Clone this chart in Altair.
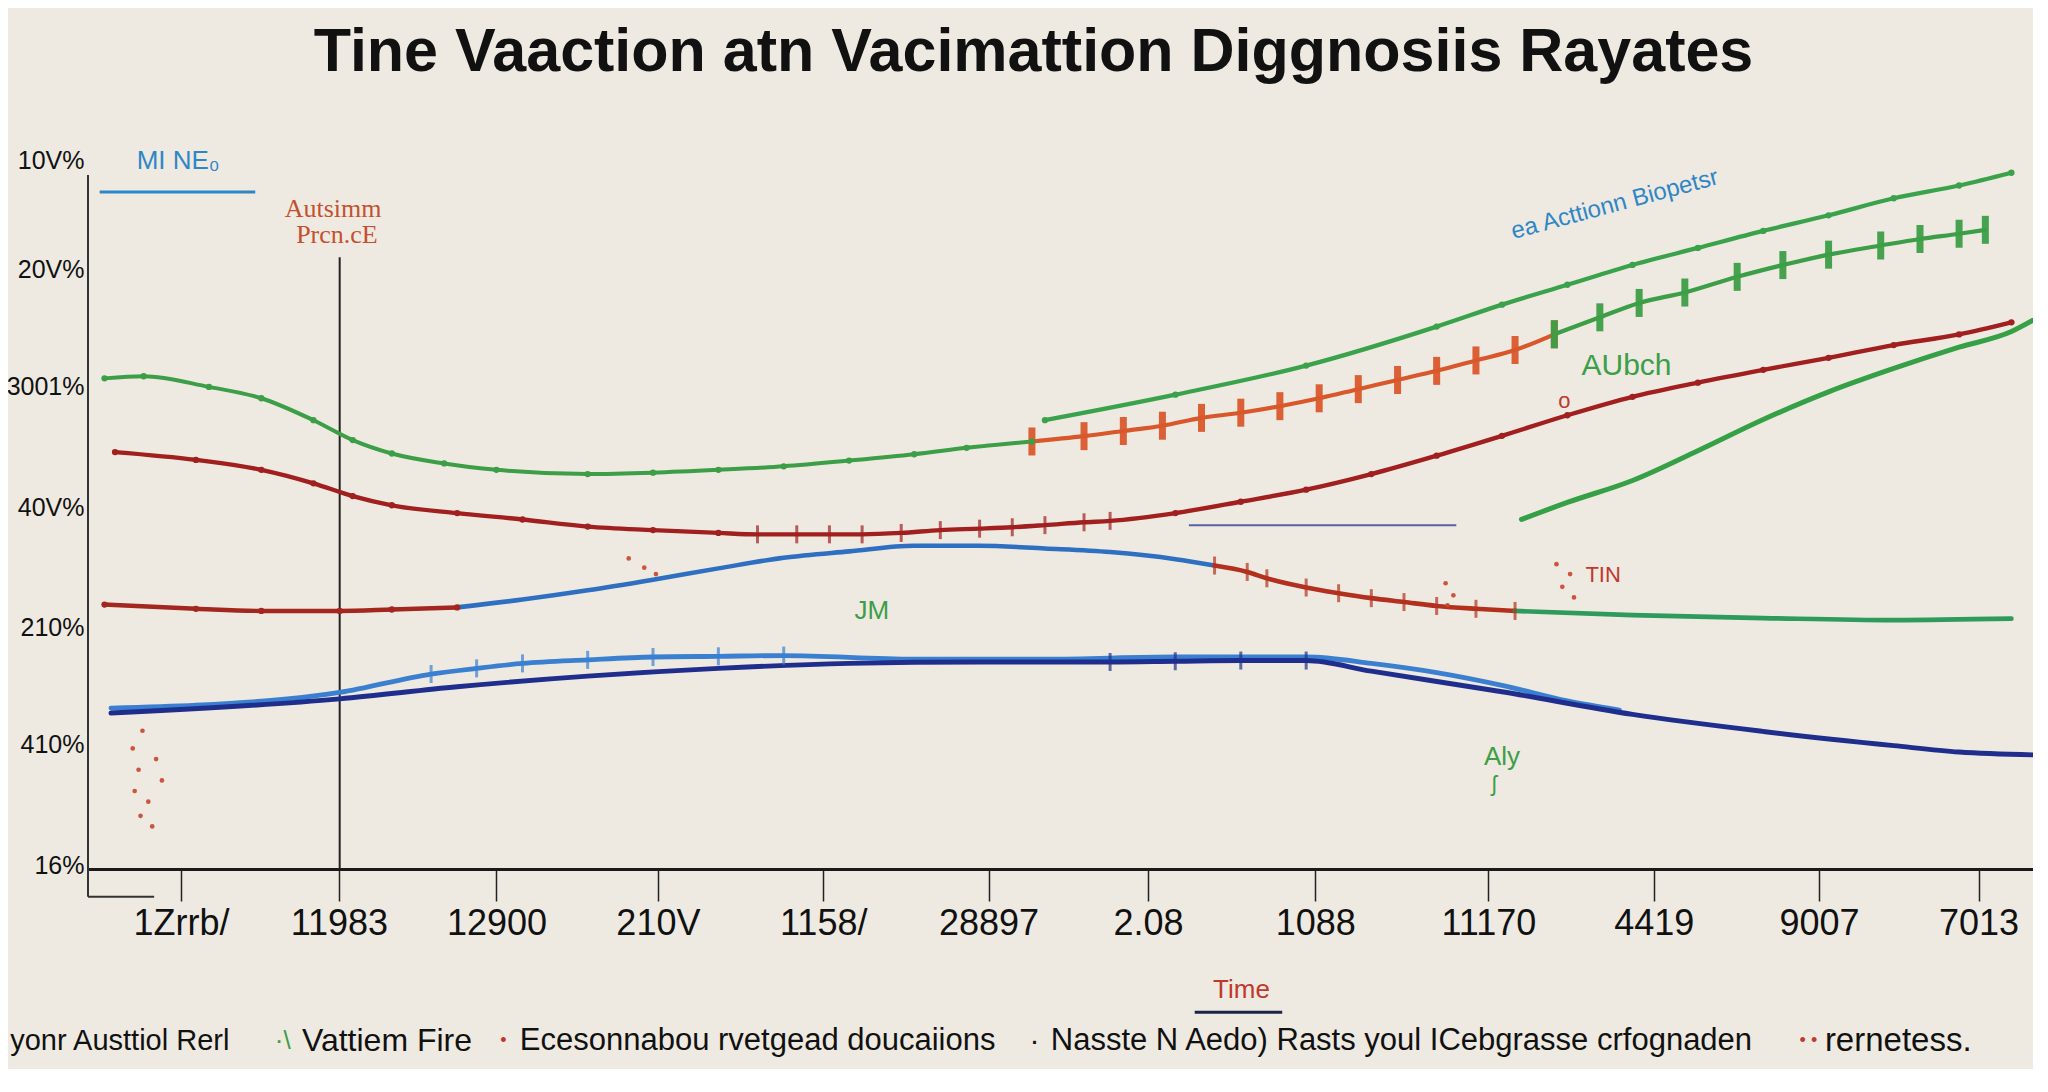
import json
import altair as alt
import pandas as pd

TITLE = "Tine Vaaction atn Vacimattion Diggnosiis Rayates"
SANS = "Liberation Sans"

x_tick_values = [4.78, 12.9, 21.0, 29.3, 37.8, 46.3, 54.5, 63.1, 72.0, 80.5, 89.0, 97.2]
x_tick_labels = ["1Zrrb/", "11983", "12900", "210V", "1158/", "28897", "2.08", "1088", "11170", "4419", "9007", "7013"]
y_tick_values = [0.5, 17.5, 34, 51, 68, 84.5, 100]
y_tick_labels = ["16%", "410%", "210%", "40V%", "3001%", "20V%", "10V%"]

green_a_x = [0.85, 2.86, 6.22, 8.91, 11.59, 13.61, 15.62, 18.31, 21.0, 25.69, 29.05, 32.41, 35.77, 39.13, 42.48, 45.17, 48.53]
green_a_y = [69.2, 69.5, 68.0, 66.4, 63.3, 60.5, 58.6, 57.2, 56.3, 55.7, 55.9, 56.3, 56.8, 57.6, 58.5, 59.4, 60.3]

orange_b_x = [48.53, 51.21, 53.23, 55.24, 57.25, 59.27, 61.28, 63.30, 65.31, 67.33, 69.34, 71.36, 73.37, 75.39]
orange_b_y = [60.3, 61.05, 61.78, 62.52, 63.63, 64.36, 65.28, 66.39, 67.68, 68.97, 70.26, 71.73, 73.20, 75.42]

green_b_x = [75.39, 77.73, 79.75, 82.10, 84.79, 87.14, 89.49, 92.17, 94.19, 96.20, 97.55]
green_b_y = [75.42, 77.81, 79.84, 81.31, 83.52, 85.18, 86.65, 87.94, 88.86, 89.60, 90.15]

green_c_x = [49.2, 55.91, 62.63, 69.34, 72.70, 76.06, 79.41, 82.77, 86.13, 89.49, 92.84, 96.2, 98.89]
green_c_y = [63.3, 66.9, 71.0, 76.5, 79.6, 82.4, 85.2, 87.6, 90.0, 92.2, 94.6, 96.4, 98.2]

red_d_x = [1.39, 5.55, 8.91, 11.59, 13.61, 15.62, 18.98, 22.34, 25.69, 29.05,
           32.41, 34.42, 36.44, 38.12, 39.80, 41.81, 43.82, 45.84, 47.52, 49.2,
           51.21, 52.55, 55.91, 59.27, 62.63, 65.98, 69.34, 72.70, 76.06, 79.41,
           82.77, 86.13, 89.49, 92.84, 96.2, 98.89]
red_d_y = [58.8, 57.7, 56.3, 54.4, 52.6, 51.3, 50.2, 49.3, 48.3, 47.8,
           47.4, 47.2, 47.2, 47.2, 47.2, 47.4, 47.8, 48.0, 48.2, 48.5,
           48.9, 49.1, 50.2, 51.8, 53.5, 55.7, 58.3, 61.1, 64.0, 66.6,
           68.6, 70.4, 72.1, 73.9, 75.4, 77.1]

red_e_x = [0.85, 5.55, 8.91, 12.94, 15.62, 18.98]
red_e_y = [37.3, 36.7, 36.4, 36.4, 36.6, 36.9]

blue_f_x = [18.98, 22.34, 25.69, 29.05, 32.41, 35.77, 39.13, 42.48, 45.84, 49.2, 52.55, 55.91, 57.92]
blue_f_y = [36.9, 38.0, 39.3, 40.8, 42.4, 43.9, 44.8, 45.6, 45.6, 45.2, 44.7, 43.7, 42.8]

red_g_x = [57.92, 59.6, 60.61, 62.63, 64.3, 65.98, 67.66, 69.34, 71.36, 73.37]
red_g_y = [42.8, 41.9, 41.0, 39.7, 38.9, 38.2, 37.65, 37.1, 36.7, 36.4]

green_h_x = [73.37, 79.41, 86.13, 92.84, 98.89]
green_h_y = [36.4, 35.8, 35.4, 35.1, 35.3]

blue_i_x = [1.18, 5.55, 12.94, 17.64, 19.98, 22.34, 25.69, 29.05, 32.41, 35.77,
            42.48, 49.2, 55.91, 62.63, 65.98, 69.34, 72.70, 76.06, 78.74]
blue_i_y = [22.7, 23.1, 24.9, 27.5, 28.3, 29.0, 29.5, 29.9, 30.0, 30.1,
            29.6, 29.6, 29.9, 29.9, 29.0, 27.7, 25.9, 23.7, 22.4]

navy_j_x = [1.18, 12.94, 18.98, 25.69, 32.41, 39.13, 45.84, 52.55, 55.9, 59.27, 62.63, 65.98, 72.70, 79.41, 86.13, 92.84, 96.2, 100.0]
navy_j_y = [22.0, 24.0, 25.7, 27.2, 28.3, 29.0, 29.2, 29.2, 29.3, 29.4, 29.4, 27.9, 25.0, 21.8, 19.4, 17.4, 16.5, 16.1]

green_k_x = [73.7, 76.06, 79.41, 82.77, 86.13, 89.49, 92.84, 96.2, 98.89, 100.0]
green_k_y = [49.3, 51.7, 54.8, 59.0, 63.4, 67.3, 70.6, 73.6, 75.8, 77.4]

scatter_x = [2.8, 2.3, 3.5, 2.6, 3.8, 2.4, 3.1, 2.7, 3.3, 27.8, 28.6, 29.2, 69.8, 70.2, 69.9, 75.5, 76.2, 75.8, 76.4]
scatter_y = [19.5, 17.0, 15.5, 14.0, 12.5, 11.0, 9.5, 7.5, 6.0, 43.8, 42.5, 41.6, 40.3, 38.6, 37.2, 43.0, 41.6, 39.8, 38.3]

series_names = ["A", "B1", "B2", "C", "D", "E", "F", "G", "H", "I", "J", "K"]
series_colors = ["#3c9e46", "#d9582b", "#3c9e46", "#3aa24a", "#a11f1f", "#a3261f",
                 "#2e6fc2", "#b3301e", "#2e9a5c", "#3b80d0", "#1f2e8c", "#35a046"]
series_widths = [4, 5, 5, 3.5, 3.5, 3.5, 3.5, 3.5, 4, 3, 5.5, 4]

# annotations (center aligned, sans)
ann_text = ["ea Acttionn Biopetsr", "AUbch", "JM", "Aly", "ʃ", "TIN", "o"]
ann_x = [78.5, 79.1, 40.3, 72.7, 72.3, 77.9, 75.9]
ann_y = [93.7, 70.9, 36.4, 15.8, 12.0, 41.5, 66.0]
ann_color = ["#2f86c6", "#3c9e46", "#3c9e46", "#3c9e46", "#3c9e46", "#c0392b", "#c0392b"]
ann_size = [24, 30, 26, 26, 22, 22, 22]
ann_angle = [345, 0, 0, 0, 0, 0, 0]

serif_text = ["Autsimm", "Prcn.cE"]
serif_x = [12.6, 12.8]
serif_y = [93.1, 89.4]

# left aligned texts (legend row and top-left label)
leg_text = ["MI NE₀", "yonr Austtiol Rerl", "·\\", "Vattiem Fire", "•",
            "Ecesonnabou rvetgead doucaiions", "·",
            "Nasste N Aedo) Rasts youl ICebgrasse crfognaden", "• •", "rernetess."]
leg_x = [2.5, -4.0, 9.6, 11.0, 21.2, 22.2, 48.4, 49.5, 88.0, 89.3]
leg_y = [99.9, -24.3, -24.3, -24.3, -24.3, -24.3, -24.3, -24.3, -24.3, -24.3]
leg_color = ["#2f86c6", "#111111", "#3c9e46", "#111111", "#c0392b", "#111111",
             "#111111", "#111111", "#c0392b", "#111111"]
leg_size = [26, 29, 26, 32, 18, 31, 30, 31, 18, 33]

# rules: x, x2, y, y2, color, width
rule_x = [12.94, 0.0, 0.0, 0.6, 56.6, 56.9]
rule_x2 = [12.94, 0.0, 3.4, 8.6, 70.35, 61.4]
rule_y = [0.0, -3.9, -3.9, 95.5, 48.5, -20.2]
rule_y2 = [86.3, 97.9, -3.9, 95.5, 48.5, -20.2]
rule_color = ["#222222", "#333333", "#333333", "#2f86c6", "#5b5fa8", "#1c2448"]
rule_width = [2, 2, 2, 3, 2, 3]

# ---------- build tables ----------
all_series = {
    "A": (green_a_x, green_a_y), "B1": (orange_b_x, orange_b_y), "B2": (green_b_x, green_b_y),
    "C": (green_c_x, green_c_y), "D": (red_d_x, red_d_y), "E": (red_e_x, red_e_y),
    "F": (blue_f_x, blue_f_y), "G": (red_g_x, red_g_y), "H": (green_h_x, green_h_y),
    "I": (blue_i_x, blue_i_y), "J": (navy_j_x, navy_j_y), "K": (green_k_x, green_k_y),
}
rows = []
for name, (xs_, ys_) in all_series.items():
    for i, (xv, yv) in enumerate(zip(xs_, ys_)):
        rows.append({"series": name, "x": xv, "y": yv, "order": i})
lines_df = pd.DataFrame(rows)

def kind(r):
    if r["series"] in ("B1", "B2"):
        return "big"
    if r["series"] == "D" and 34 <= r["x"] <= 53:
        return "small"
    if r["series"] == "G":
        return "small"
    if r["series"] == "I" and 17 <= r["x"] <= 36:
        return "small"
    if r["series"] == "J" and 52 <= r["x"] <= 63:
        return "small"
    if r["series"] in ("A", "C", "D", "E"):
        return "dot"
    return "none"

lines_df["kind"] = lines_df.apply(kind, axis=1)

scatter_df = pd.DataFrame({"x": scatter_x, "y": scatter_y})
ann_df = pd.DataFrame({"text": ann_text, "x": ann_x, "y": ann_y, "color": ann_color,
                       "size": ann_size, "angle": ann_angle})
serif_df = pd.DataFrame({"text": serif_text, "x": serif_x, "y": serif_y})
leg_df = pd.DataFrame({"text": leg_text, "x": leg_x, "y": leg_y, "color": leg_color, "size": leg_size})
rule_df = pd.DataFrame({"x": rule_x, "x2": rule_x2, "y": rule_y, "y2": rule_y2,
                        "color": rule_color, "width": rule_width})

x_label_expr = "{}[indexof({}, datum.value)]".format(json.dumps(x_tick_labels), json.dumps(x_tick_values))
y_label_expr = "{}[indexof({}, datum.value)]".format(json.dumps(y_tick_labels), json.dumps(y_tick_values))

x_axis = alt.Axis(values=x_tick_values, labelExpr=x_label_expr, title="Time",
                  titleColor="#c0392b", titleFont=SANS, titleFontSize=26,
                  titleFontWeight="normal", titleX=1153, titleY=120, titleAlign="center",
                  titleBaseline="middle", domainColor="#1a1a1a", domainWidth=3,
                  tickColor="#222222", tickWidth=1.5, tickSize=32,
                  labelFont=SANS, labelFontSize=36, labelColor="#111111",
                  labelPadding=5, labelOverlap=False, labelFlush=False, grid=False)
y_axis = alt.Axis(values=y_tick_values, labelExpr=y_label_expr, title=None, domain=False,
                  ticks=False, labelFont=SANS, labelFontSize=25,
                  labelColor="#111111", labelPadding=4, grid=False, labelOverlap=False,
                  labelFlush=False)

xs = alt.Scale(domain=[0, 100], nice=False, zero=False)
ys = alt.Scale(domain=[0, 100], nice=False, zero=False)
X = alt.X("x:Q", scale=xs, axis=x_axis)
Y = alt.Y("y:Q", scale=ys, axis=y_axis)

color_enc = alt.Color("series:N", scale=alt.Scale(domain=series_names, range=series_colors), legend=None)

lines = alt.Chart(lines_df).mark_line(interpolate="monotone", strokeCap="round").encode(
    x=X, y=Y, color=color_enc,
    strokeWidth=alt.StrokeWidth("series:N", scale=alt.Scale(domain=series_names, range=series_widths), legend=None),
    detail="series:N", order="order:Q")

big_ticks = alt.Chart(lines_df).transform_filter("datum.kind == 'big'").mark_tick(
    orient="vertical", size=28, thickness=7, opacity=0.95).encode(x=X, y=Y, color=color_enc)
small_ticks = alt.Chart(lines_df).transform_filter("datum.kind == 'small'").mark_tick(
    orient="vertical", size=18, thickness=3).encode(x=X, y=Y, color=color_enc)
dots = alt.Chart(lines_df).transform_filter("datum.kind == 'dot'").mark_circle(
    size=40, opacity=1).encode(x=X, y=Y, color=color_enc)

scatter = alt.Chart(scatter_df).mark_circle(size=22, color="#c8452c", opacity=0.9).encode(x=X, y=Y)

rules = alt.Chart(rule_df).mark_rule().encode(
    x=X, x2="x2:Q", y=Y, y2="y2:Q",
    color=alt.Color("color:N", scale=None),
    strokeWidth=alt.StrokeWidth("width:Q", scale=None))

ann = alt.Chart(ann_df).mark_text(font=SANS, align="center", baseline="middle").encode(
    x=X, y=Y, text="text:N", color=alt.Color("color:N", scale=None),
    size=alt.Size("size:Q", scale=None), angle=alt.Angle("angle:Q", scale=None))

serif = alt.Chart(serif_df).mark_text(font="Liberation Serif", align="center", baseline="middle",
                                      fontSize=26, color="#c4502e").encode(x=X, y=Y, text="text:N")

legend_row = alt.Chart(leg_df).mark_text(font=SANS, align="left", baseline="middle").encode(
    x=X, y=Y, text="text:N", color=alt.Color("color:N", scale=None), size=alt.Size("size:Q", scale=None))

chart = alt.layer(rules, lines, big_ticks, small_ticks, dots, scatter, ann, serif, legend_row).properties(
    width=1945, height=709,
    autosize=alt.AutoSizeParams(type="none"),
    padding={"left": 80, "top": 152, "right": 0, "bottom": 200},
    title=alt.Title(TITLE, font=SANS, fontSize=61, fontWeight="bold",
                    color="#111111", anchor="middle", frame="group", dx=-27,
                    baseline="alphabetic", offset=16),
).configure(background="#eeeae1").configure_view(stroke=None)

chart.save("out.html", embed_options={"renderer": "svg", "actions": False})
